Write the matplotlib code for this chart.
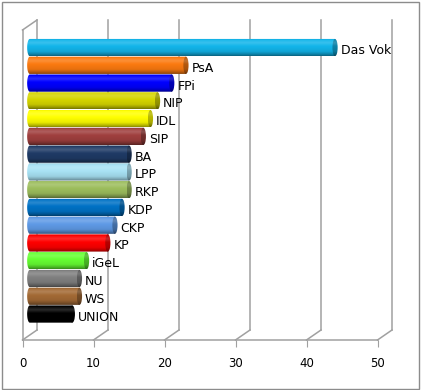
import numpy as np
import matplotlib
matplotlib.use('Agg')
import matplotlib.pyplot as plt
import matplotlib.transforms as mtransforms
from matplotlib.path import Path
from matplotlib.patches import Ellipse, PathPatch, Rectangle
from matplotlib import colors as mcolors

# data
parties = ['Das Vok', 'PsA', 'FPi', 'NIP', 'IDL', 'SIP', 'BA', 'LPP', 'RKP',
           'KDP', 'CKP', 'KP', 'iGeL', 'NU', 'WS', 'UNION']
values = [43, 22, 20, 18, 17, 16, 14, 14, 14, 13, 12, 11, 8, 7, 7, 6]
bar_colors = ['#12b5ea', '#fb7a10', '#0000ff', '#d6d600', '#ffff00', '#a0403f',
              '#1f3b66', '#a8e2f4', '#9dbe5d', '#0072c6', '#5f9ae6', '#ff0000',
              '#66ff33', '#808080', '#a36a35', '#000000']
xticks = [0, 10, 20, 30, 40, 50]

W, H = 421, 390
fig = plt.figure(figsize=(W / 100, H / 100), dpi=100)
ax = fig.add_axes([22.5 / W, 50 / H, 355 / W, 310 / H])
ylo, yhi = -1.18, 16.27

# 3d depth (pixels)
DX, DY = 14.5, 10
px_x = 355 / 50.0
px_y = 310 / (yhi - ylo)
back = mtransforms.offset_copy(ax.transData, fig=fig, x=DX, y=DY, units='dots')
mid = mtransforms.offset_copy(ax.transData, fig=fig, x=DX / 2, y=DY / 2, units='dots')
lab = mtransforms.offset_copy(ax.transData, fig=fig, x=DX / 2 + 3, y=DY / 2 - 3, units='dots')

grid_c = '#a0a0a0'
for t in xticks:
    ax.plot([t, t], [ylo, yhi], color=grid_c, lw=1.1, transform=back, clip_on=False, zorder=1)
    ax.plot([t, t + DX / px_x], [ylo, ylo + DY / px_y], color=grid_c, lw=1.1,
            clip_on=False, zorder=1)
ax.plot([0, DX / px_x], [yhi, yhi + DY / px_y], color=grid_c, lw=1.1, clip_on=False, zorder=1)


def shade(c, n=40):
    base = np.array(mcolors.to_rgb(c))
    t = np.linspace(0, 1, n)
    f = np.interp(t, [0, 0.1, 0.25, 0.45, 0.75, 0.92, 1.0], [0.85, 1.05, 1.18, 1.0, 0.92, 0.7, 0.55])
    out = []
    for k in f:
        if k >= 1:
            out.append(base + (1 - base) * (k - 1) * 0.9)
        else:
            out.append(base * k)
    return np.clip(np.array(out), 0, 1)[:, None, :]


h = 0.97
rx = 2.6 / px_x
for i, (name, v, c) in enumerate(zip(parties, values, bar_colors)):
    y = len(parties) - 1 - i
    a = np.linspace(np.pi / 2, 3 * np.pi / 2, 20)
    verts = [(rx * np.cos(q), y + h / 2 * np.sin(q)) for q in a]
    verts += [(v, y - h / 2), (v, y + h / 2), (0, y + h / 2)]
    body = PathPatch(Path(verts), transform=mid, facecolor='none', edgecolor='none')
    ax.add_patch(body)
    im = ax.imshow(shade(c), extent=(-rx, v, y - h / 2, y + h / 2), aspect='auto',
                   transform=mid, zorder=3, interpolation='bilinear')
    im.set_clip_path(body)
    cap = Ellipse((v, y), 2 * rx, h, transform=mid, facecolor='none', edgecolor='none')
    ax.add_patch(cap)
    dark = mcolors.to_hex(np.array(mcolors.to_rgb(c)) * 0.72)
    im2 = ax.imshow(shade(dark), extent=(v - rx, v + rx, y - h / 2, y + h / 2), aspect='auto',
                    transform=mid, zorder=4, interpolation='bilinear')
    im2.set_clip_path(cap)
    ax.text(v + rx, y, name, transform=lab, fontsize=9, va='center', ha='left',
            color='black', zorder=5)

ax.set_xlim(0, 50)
ax.set_ylim(ylo, yhi)
ax.set_xticks(xticks)
ax.set_yticks([])
ax.patch.set_visible(False)
for s in ['top', 'right']:
    ax.spines[s].set_visible(False)
for s in ['left', 'bottom']:
    ax.spines[s].set_color(grid_c)
    ax.spines[s].set_linewidth(1.1)
ax.tick_params(axis='x', length=5, color=grid_c, pad=7, labelsize=8.5, labelcolor='black')

fig.patches.append(Rectangle((2 / W, 1.5 / H), 417 / W, 387 / H, transform=fig.transFigure,
                             fill=False, edgecolor='#8c8c8c', lw=1))

plt.savefig('out.png', dpi=100)
